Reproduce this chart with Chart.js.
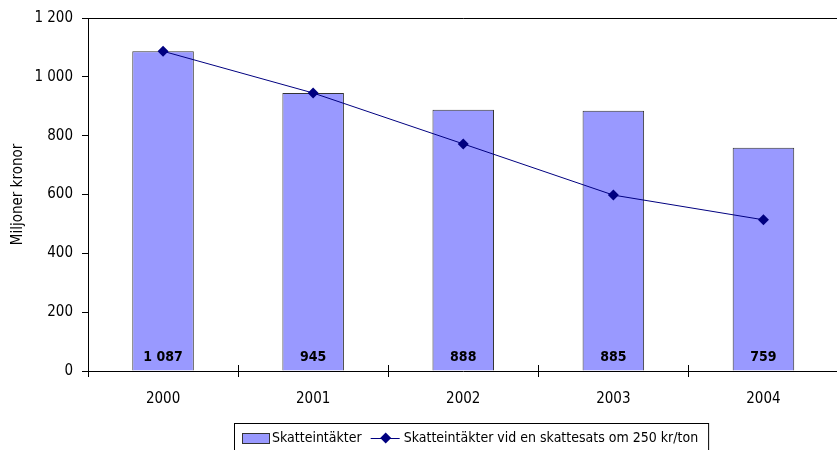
<!DOCTYPE html>
<html>
<head>
<meta charset="utf-8">
<script src="https://cdn.jsdelivr.net/npm/chart.js@4"></script>
<style>
  html, body { margin: 0; padding: 0; background: #fff; overflow: hidden; }
  #wrap { position: relative; width: 844px; height: 450px; }
</style>
</head>
<body>
<div id="wrap"><canvas id="c"></canvas></div>
<script>
// Skatteintäkter per år, miljoner kronor
const years = ['2000', '2001', '2002', '2003', '2004'];
const revenue = [1087, 945, 888, 885, 759];
const revenueAt250 = [1087, 945, 772, 598, 514];
const seriesNames = ['Skatteintäkter', 'Skatteintäkter vid en skattesats om 250 kr/ton'];
const yTicks = [0, 200, 400, 600, 800, 1000, 1200];

const FONT = '"DejaVu Sans Condensed", "Liberation Sans Narrow", "DejaVu Sans", sans-serif';
const BAR_FILL = '#9999ff';
const BAR_EDGE = '#333333';
const LINE_COL = '#000080';

function fmt(n) {
  return String(n).replace(/\B(?=(\d{3})+(?!\d))/g, ' ');
}

// Top frame line of the plot area, plus category tick marks reaching up across the axis
const frameTop = {
  id: 'frameTop',
  afterDraw(chart) {
    const { ctx, chartArea } = chart;
    const xs = chart.scales.x;
    const y = chart.scales.y.getPixelForValue(yTicks[yTicks.length - 1]);
    ctx.save();
    ctx.strokeStyle = '#000';
    ctx.lineWidth = 1;
    ctx.beginPath();
    ctx.moveTo(chartArea.left, Math.round(y) + 0.5);
    ctx.lineTo(chartArea.right, Math.round(y) + 0.5);
    for (let i = 1; i < years.length; i++) {
      const px = Math.round(xs.getPixelForValue(i - 0.5)) + 0.5;
      ctx.moveTo(px, chartArea.bottom);
      ctx.lineTo(px, chartArea.bottom - 6);
    }
    ctx.stroke();
    ctx.restore();
  }
};

// Value labels at the foot of each bar
const barLabels = {
  id: 'barLabels',
  afterDatasetsDraw(chart) {
    const { ctx, chartArea } = chart;
    const meta = chart.getDatasetMeta(0);
    const data = chart.data.datasets[0].data;
    ctx.save();
    ctx.font = 'bold 14px ' + FONT;
    ctx.fillStyle = '#000';
    ctx.textAlign = 'center';
    ctx.textBaseline = 'middle';
    meta.data.forEach((bar, i) => {
      ctx.fillText(fmt(data[i]), bar.x, chartArea.bottom - 14);
    });
    ctx.restore();
  }
};

// Boxed legend below the axis
const boxLegend = {
  id: 'boxLegend',
  afterDraw(chart) {
    const { ctx } = chart;
    const ds = chart.data.datasets;
    ctx.save();
    ctx.font = '14px ' + FONT;
    ctx.textBaseline = 'middle';
    const boxL = 234, boxT = 423.5, cy = 438;
    // bar swatch
    let x = boxL + 8;
    ctx.fillStyle = ds[0].backgroundColor;
    ctx.fillRect(x, cy - 5, 27, 10);
    ctx.strokeStyle = BAR_EDGE;
    ctx.lineWidth = 1;
    ctx.strokeRect(x + 0.5, cy - 5 + 0.5, 27, 10);
    x += 30;
    ctx.fillStyle = '#000';
    ctx.fillText(ds[0].label, x, cy);
    x += ctx.measureText(ds[0].label).width + 9;
    // line swatch with diamond
    ctx.strokeStyle = ds[1].borderColor;
    ctx.beginPath();
    ctx.moveTo(x, cy + 0.5);
    ctx.lineTo(x + 29, cy + 0.5);
    ctx.stroke();
    const mx = x + 15;
    ctx.fillStyle = ds[1].pointBackgroundColor;
    ctx.beginPath();
    ctx.moveTo(mx, cy - 5.5);
    ctx.lineTo(mx + 5.5, cy);
    ctx.lineTo(mx, cy + 5.5);
    ctx.lineTo(mx - 5.5, cy);
    ctx.closePath();
    ctx.fill();
    x += 33;
    ctx.fillStyle = '#000';
    ctx.fillText(ds[1].label, x, cy);
    x += ctx.measureText(ds[1].label).width + 10;
    // frame
    ctx.strokeStyle = '#000';
    ctx.strokeRect(boxL + 0.5, boxT, x - boxL, 40);
    ctx.restore();
  }
};

new Chart(document.getElementById('c'), {
  data: {
    labels: years,
    datasets: [
      {
        type: 'bar',
        label: seriesNames[0],
        data: revenue,
        backgroundColor: BAR_FILL,
        borderColor: BAR_EDGE,
        borderWidth: 1,
        categoryPercentage: 1,
        barPercentage: 0.41,
        order: 1
      },
      {
        type: 'line',
        label: seriesNames[1],
        data: revenueAt250,
        borderColor: LINE_COL,
        borderWidth: 1,
        pointStyle: 'rectRot',
        pointRadius: 5.5,
        pointBackgroundColor: LINE_COL,
        pointBorderColor: LINE_COL,
        pointBorderWidth: 0,
        tension: 0,
        order: 0
      }
    ]
  },
  options: {
    responsive: true,
    maintainAspectRatio: false,
    animation: false,
    events: [],
    layout: { padding: { top: 18, left: 0, right: 0, bottom: 0 } },
    plugins: { legend: { display: false }, tooltip: { enabled: false } },
    scales: {
      x: {
        offset: true,
        grid: { offset: true, drawOnChartArea: false, tickLength: 6, color: '#000' },
        border: { color: '#000', width: 1 },
        ticks: { color: '#000', font: { family: FONT, size: 15 }, padding: 13, maxRotation: 0 },
        afterFit(scale) { scale.height = 79; }
      },
      y: {
        min: 0,
        max: 1200,
        afterBuildTicks(scale) { scale.ticks = yTicks.map(v => ({ value: v })); },
        grid: { drawOnChartArea: false, tickLength: 6, color: '#000' },
        border: { color: '#000', width: 1 },
        ticks: { color: '#000', font: { family: FONT, size: 15 }, padding: 9, callback: v => fmt(v) },
        title: { display: true, text: 'Miljoner kronor', color: '#000', font: { family: FONT, size: 15 }, padding: { top: 9, bottom: 0 } },
        afterFit(scale) { scale.width = 88; }
      }
    }
  },
  plugins: [frameTop, barLabels, boxLegend]
});
</script>
</body>
</html>
